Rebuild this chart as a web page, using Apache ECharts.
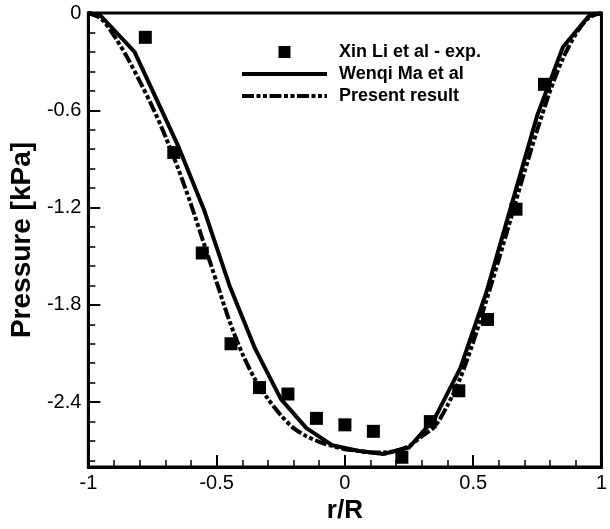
<!DOCTYPE html>
<html>
<head>
<meta charset="utf-8">
<script src="https://cdn.jsdelivr.net/npm/echarts@6/dist/echarts.min.js"></script>
<style>html,body{margin:0;padding:0;background:#fff;}#c{width:610px;height:529px;}</style>
</head>
<body>
<div id="c"></div>
<script>
// Experimental data (Xin Li et al - exp.)
const expX = [-0.778, -0.667, -0.556, -0.444, -0.333, -0.222, -0.111, 0, 0.111, 0.222, 0.333, 0.444, 0.556, 0.667, 0.778];
const expY = [-0.15, -0.86, -1.48, -2.04, -2.31, -2.35, -2.50, -2.54, -2.58, -2.74, -2.52, -2.33, -1.89, -1.21, -0.44];

// Wenqi Ma et al (solid)
const maX = [-1, -0.95, -0.82, -0.65, -0.55, -0.45, -0.35, -0.25, -0.15, -0.05, 0.05, 0.15, 0.25, 0.35, 0.45, 0.55, 0.65, 0.75, 0.85, 0.95, 1];
const maY = [0, -0.02, -0.24, -0.82, -1.21, -1.68, -2.07, -2.38, -2.56, -2.665, -2.70, -2.72, -2.68, -2.50, -2.19, -1.73, -1.18, -0.63, -0.21, -0.02, 0];

// Present result (dash-dot-dot)
const prX = [-1, -0.95, -0.9, -0.85, -0.8, -0.75, -0.7, -0.65, -0.6, -0.55, -0.5, -0.45, -0.4, -0.35, -0.3, -0.25, -0.2, -0.15, -0.1, -0.05, 0, 0.05, 0.1, 0.15, 0.2, 0.25, 0.3, 0.35, 0.4, 0.45, 0.5, 0.55, 0.6, 0.65, 0.7, 0.75, 0.8, 0.85, 0.9, 0.95, 1];
const prY = [0, -0.035, -0.14, -0.27, -0.42, -0.58, -0.76, -0.96, -1.18, -1.42, -1.66, -1.90, -2.10, -2.26, -2.38, -2.48, -2.56, -2.61, -2.645, -2.67, -2.69, -2.70, -2.71, -2.71, -2.70, -2.67, -2.61, -2.55, -2.42, -2.25, -2.03, -1.78, -1.52, -1.25, -0.98, -0.72, -0.48, -0.28, -0.13, -0.03, 0];

// Axis ticks
const yMajor = [0, -0.6, -1.2, -1.8, -2.4];
const yMinor = [-0.12, -0.24, -0.36, -0.48, -0.72, -0.84, -0.96, -1.08, -1.32, -1.44, -1.56, -1.68, -1.92, -2.04, -2.16, -2.28, -2.52, -2.64, -2.76];

const names = ['Xin Li et al - exp.', 'Wenqi Ma et al', 'Present result'];

const zip = (a, b) => a.map((v, i) => [v, b[i]]);
const FONT = 'Liberation Sans, Arial, sans-serif';
const solidStyle = { color: '#000', width: 4 };
const chainStyle = { color: '#000', width: 4, type: [12, 2.5, 4, 2.5, 4, 2.5], cap: 'butt' };

const chart = echarts.init(document.getElementById('c'));
chart.setOption({
  animation: false,
  backgroundColor: '#fff',
  grid: { left: 88, right: 8, top: 13, bottom: 62, show: true, borderColor: '#000', borderWidth: 3, containLabel: false },
  legend: {
    data: [
      { name: names[0], icon: 'path://M0,0L10,0L10,10L0,10Z' },
      { name: names[1], icon: 'inherit', itemStyle: { opacity: 0 }, lineStyle: solidStyle },
      { name: names[2], icon: 'inherit', itemStyle: { opacity: 0 }, lineStyle: chainStyle }
    ],
    orient: 'vertical',
    left: 240,
    top: 43,
    padding: 0,
    itemWidth: 85,
    itemHeight: 12,
    itemGap: 4,
    symbolKeepAspect: true,
    textStyle: { fontFamily: FONT, fontSize: 18, fontWeight: 'bold', color: '#000', padding: [0, 0, 0, 7] }
  },
  xAxis: {
    type: 'value', min: -1, max: 1, interval: 0.5,
    name: 'r/R', nameLocation: 'middle', nameGap: 25,
    nameTextStyle: { fontFamily: FONT, fontSize: 26, fontWeight: 'bold', color: '#000' },
    axisLine: { show: true, onZero: false, lineStyle: { color: '#000', width: 3 } },
    axisTick: { show: true, inside: true, length: 12, lineStyle: { color: '#000', width: 2 } },
    minorTick: { show: true, splitNumber: 5, length: 7, lineStyle: { color: '#000', width: 1.5 } },
    splitLine: { show: false },
    axisLabel: { fontFamily: FONT, fontSize: 20, color: '#000', margin: 6 }
  },
  yAxis: [{
    type: 'value', min: -2.8, max: 0,
    name: 'Pressure [kPa]', nameLocation: 'middle', nameGap: 47,
    nameTextStyle: { fontFamily: FONT, fontSize: 28, fontWeight: 'bold', color: '#000' },
    axisLine: { show: true, onZero: false, lineStyle: { color: '#000', width: 3 } },
    axisTick: { show: true, inside: true, length: 12, customValues: yMajor, lineStyle: { color: '#000', width: 2 } },
    axisLabel: { fontFamily: FONT, fontSize: 20, color: '#000', margin: 7, customValues: yMajor },
    splitLine: { show: false }
  }, {
    type: 'value', min: -2.8, max: 0, position: 'left',
    axisLine: { show: false, onZero: false },
    axisTick: { show: true, inside: true, length: 7, customValues: yMinor, lineStyle: { color: '#000', width: 1.5 } },
    axisLabel: { show: false },
    splitLine: { show: false }
  }],
  series: [{
    name: names[0], type: 'scatter', data: zip(expX, expY),
    symbol: 'rect', symbolSize: 13, itemStyle: { color: '#000', opacity: 1 }, z: 5
  }, {
    name: names[1], type: 'line', data: zip(maX, maY), showSymbol: false, symbol: 'none',
    lineStyle: solidStyle, itemStyle: { color: '#000' }
  }, {
    name: names[2], type: 'line', data: zip(prX, prY), showSymbol: false, symbol: 'none', smooth: 0.3,
    lineStyle: chainStyle, itemStyle: { color: '#000' }
  }]
});
</script>
</body>
</html>
